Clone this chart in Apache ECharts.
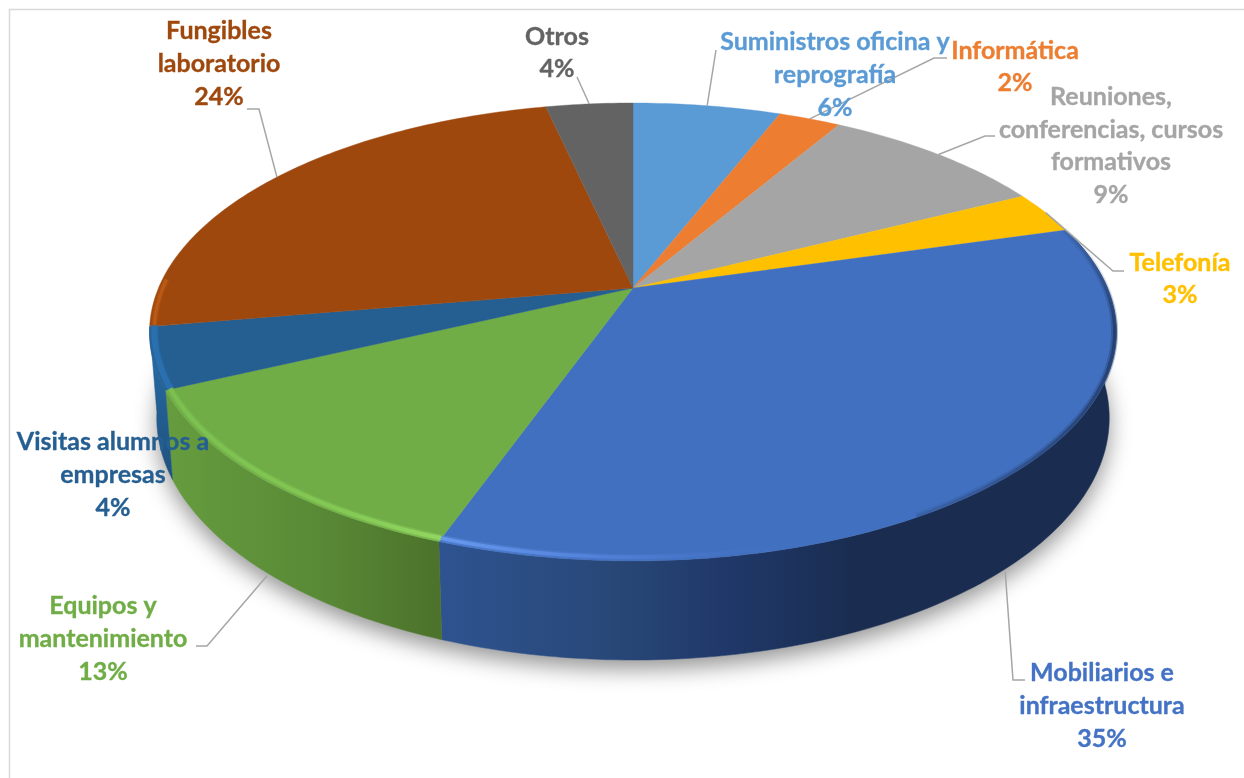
<!DOCTYPE html>
<html>
<head>
<meta charset="utf-8">
<style>html,body{margin:0;padding:0;background:#fff}#c{width:1244px;height:778px}</style>
<script src="https://cdn.jsdelivr.net/npm/echarts@6/dist/echarts.min.js"></script>
</head>
<body>
<div id="c"></div>
<script>
// ---- data ----
const categories = ['Suministros oficina y\nreprografía','Informática','Reuniones,\nconferencias, cursos\nformativos','Telefonía','Mobiliarios e\ninfraestructura','Equipos y\nmantenimiento','Visitas alumnos a\nempresas','Fungibles\nlaboratorio','Otros'];
const sliceValues = [5.95,2.49,9.1,3.0,34.9,12.56,4.3,24.2,3.5];

// ---- styling and layout (not data) ----
const topColors = ['#5b9bd5','#ed7d31','#a5a5a5','#ffc000','#4170c0','#70ad47','#255e91','#9e480e','#636363'];
const labelCenters = [[835,75],[1015,67],[1111,146],[1180,279],[1102,706],[103,639],[113,475],[219,64],[557,53]];
const leaderElbows = [[[716,50]],[[934,58],[947,58]],[[985,136],[995,136]],[[1113,271],[1124,271]],[[1013,680],[1025,680]],[[207,646],[196,646]],null,[[259,109],[247,109]],[[577,77]]];
const leaderOnWall = [false,false,false,false,true,true,false,false,false];
const PIE = {cx:633, cy:288, a:474.5, b:220.5, p:0.192, k:0.985, h:83.4};
const VIS = [74, 260.2];

const total = sliceValues.reduce((s,v)=>s+v,0);
const starts = []; sliceValues.reduce((s,v,i)=>(starts[i]=s,s+v),0);
const ang = pct => pct/total*360;
function topPt(t){const r=t*Math.PI/180,s=1/(1+PIE.p*Math.cos(r));return [PIE.cx+PIE.a*Math.sin(r)*s,PIE.cy-PIE.b*Math.cos(r)*s];}
function insetPt(t,f,dy){const r=t*Math.PI/180,s=1/(1+PIE.p*Math.cos(r));return [PIE.cx+PIE.a*f*Math.sin(r)*s,PIE.cy-PIE.b*f*Math.cos(r)*s+(dy||0)];}
function botPt(t){const r=t*Math.PI/180,s=1/(1+PIE.p*Math.cos(r));return [PIE.cx+PIE.a*PIE.k*Math.sin(r)*s,PIE.cy-PIE.b*PIE.k*Math.cos(r)*s+PIE.h*s];}
function arc(fn,t0,t1){const pts=[],n=Math.max(2,Math.ceil(Math.abs(t1-t0)));for(let i=0;i<=n;i++)pts.push(fn(t0+(t1-t0)*i/n));return pts;}
const LG = (x0,y0,x1,y1,stops)=>new echarts.graphic.LinearGradient(x0,y0,x1,y1,stops.map(s=>({offset:s[0],color:s[1]})),true);

function toPx(api,pts){return pts.map(p=>api.coord(p));}
const wallFills = {
  4: ()=>LG(440,0,1110,0,[[0,'#2e5390'],[0.25,'#284878'],[0.42,'#20396a'],[0.62,'#1a2d50'],[1,'#1a2d50']]),
  5: ()=>LG(165,0,440,0,[[0,'#669c3f'],[0.55,'#598a36'],[1,'#4c722b']]),
  6: ()=>LG(0,330,0,490,[[0,'#2870ad'],[0.45,'#235f93'],[1,'#1e4f7b']])
};
const rimStyles = {
  4:{c:()=>LG(438,0,860,0,[[0,'rgba(104,155,240,0.95)'],[0.35,'rgba(88,135,225,0.75)'],[0.7,'rgba(70,115,200,0.35)'],[1,'rgba(66,112,192,0)'] ]),w:3.6},
  5:{c:()=>LG(165,0,438,0,[[0,'rgba(124,192,80,0.95)'],[0.6,'rgba(132,200,84,0.95)'],[1,'rgba(144,214,96,1)']]),w:4.2},
  6:{c:()=>'rgba(42,112,175,0.95)',w:6}, 7:{c:()=>'rgba(190,92,22,0.9)',w:3,end:272}
};

function renderWall(params,api){
  const i=params.dataIndex,t0=ang(starts[i]),t1=ang(starts[i]+sliceValues[i]);
  const a=Math.max(t0,VIS[0]),b=Math.min(t1,VIS[1]);
  if(b<=a) return {type:'group',children:[]};
  const pts=arc(topPt,a,b).concat(arc(botPt,b,a));
  const fill=wallFills[i]?wallFills[i]():topColors[i];
  return {type:'polygon',shape:{points:toPx(api,pts)},style:{fill:fill,stroke:fill,lineWidth:0.5}};
}
function renderShadow(params,api){
  if(params.dataIndex!==0) return {type:'group',children:[]};
  const pts=arc(botPt,60,300);
  return {type:'polygon',shape:{points:toPx(api,pts)},style:{fill:'#ccc',shadowBlur:22,shadowColor:'rgba(0,0,0,0.42)',shadowOffsetY:9,shadowOffsetX:0}};
}
function renderTop(params,api){
  const i=params.dataIndex,t0=ang(starts[i]),t1=ang(starts[i]+sliceValues[i]);
  const pts=[[PIE.cx,PIE.cy]].concat(arc(topPt,t0,t1));
  return {type:'polygon',shape:{points:toPx(api,pts)},style:{fill:topColors[i],stroke:topColors[i],lineWidth:0.4}};
}
function renderRim(params,api){
  const i=params.dataIndex,t0=ang(starts[i]),t1=ang(starts[i]+sliceValues[i]);
  if(!rimStyles[i]) return {type:'group',children:[]};
  const R=rimStyles[i];
  const a=Math.max(t0,96),b=Math.min(t1,R.end||VIS[1]);
  const col=R.c();
  const line=arc(t=>insetPt(t,0.99,-1),a,b);
  const kids=[
    {type:'polyline',shape:{points:toPx(api,line)},style:{fill:null,stroke:col,lineWidth:R.w+3,opacity:0.35}},
    {type:'polyline',shape:{points:toPx(api,line)},style:{fill:null,stroke:col,lineWidth:R.w}}
  ];
  if(i===4){
    const dark=arc(t=>insetPt(t,0.996,0),t0,150);
    const g=a0=>LG(0,233,0,560,[[0,`rgba(26,44,80,${0.1*a0})`],[0.3,`rgba(26,44,80,${0.6*a0})`],[0.6,`rgba(26,44,80,${0.45*a0})`],[1,'rgba(26,44,80,0)']]);
    kids.push({type:'polyline',shape:{points:toPx(api,dark)},style:{fill:null,stroke:g(0.5),lineWidth:7}});
    kids.push({type:'polyline',shape:{points:toPx(api,dark)},style:{fill:null,stroke:g(1),lineWidth:3}});
  }
  return {type:'group',children:kids};
}
function renderLeader(params,api){
  const i=params.dataIndex; if(!leaderElbows[i]) return {type:'group',children:[]};
  const mid=ang(starts[i]+sliceValues[i]/2);
  const start=leaderOnWall[i]?botPt(mid):topPt(mid);
  const pts=[[start[0],start[1]+(leaderOnWall[i]?3:0)]].concat(leaderElbows[i]);
  return {type:'polyline',shape:{points:toPx(api,pts)},style:{fill:null,stroke:'#a6a6a6',lineWidth:1.5}};
}
function renderLabel(params,api){
  const i=params.dataIndex,v=api.value(1),p=api.coord(labelCenters[i]);
  const c=i===4?'#4472c4':topColors[i];
  return {type:'text',style:{x:p[0],y:p[1],text:categories[i]+'\n'+Math.round(v)+'%',fill:c,stroke:c,lineWidth:0.35,
    font:'bold 25px Lato, "Open Sans", sans-serif',lineHeight:32.7,align:'center',verticalAlign:'middle'}};
}
const rows = sliceValues.map((v,i)=>[i,v]);
const mk=(name,fn,z)=>({name,type:'custom',coordinateSystem:'cartesian2d',renderItem:fn,data:rows,z:z,clip:false,silent:true,animation:false});

const chart=echarts.init(document.getElementById('c'),null,{renderer:'canvas'});
chart.setOption({
  animation:false,backgroundColor:'#ffffff',
  grid:{left:0,right:0,top:0,bottom:0},
  xAxis:{type:'value',min:0,max:1244,show:false},
  yAxis:{type:'value',min:0,max:778,inverse:true,show:false},
  graphic:[{type:'polyline',shape:{points:[[9.5,800],[9.5,9.5],[1260,9.5]]},style:{fill:null,stroke:'#d9d9d9',lineWidth:1.5},z:0}],
  series:[mk('shadow',renderShadow,1),mk('walls',renderWall,2),mk('tops',renderTop,3),mk('rim',renderRim,4),mk('leaders',renderLeader,5),mk('labels',renderLabel,6)]
});
</script>
</body>
</html>
